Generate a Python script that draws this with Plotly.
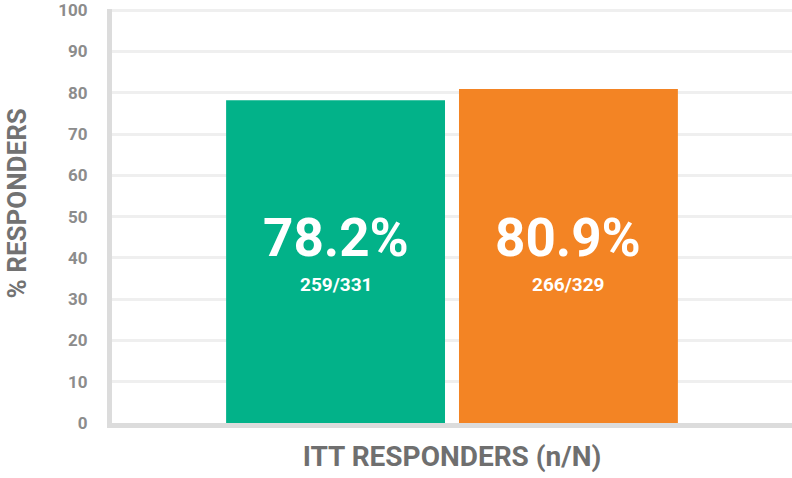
import plotly.graph_objects as go

# bar data
arms = ["Arm A", "Arm B"]
pct_responders = [78.2, 80.9]
pct_labels = ["78.2%", "80.9%"]
n_over_N = ["259/331", "266/329"]
bar_colors = ["#02B289", "#F38424"]

# y axis ticks
y_ticks = [0, 10, 20, 30, 40, 50, 60, 70, 80, 90, 100]

# labels sit at the same height in both bars
label_y = 39

fig = go.Figure()
fig.add_trace(go.Bar(
    x=arms,
    y=pct_responders,
    marker=dict(color=bar_colors, line=dict(width=0)),
    width=0.94,
    hoverinfo="skip",
))

# big % value and n/N inside each bar
for arm, lab, frac in zip(arms, pct_labels, n_over_N):
    fig.add_annotation(x=arm, y=label_y, text=f"<b>{lab}</b>", showarrow=False,
                       yshift=24, font=dict(family="Roboto", size=53, color="white"))
    fig.add_annotation(x=arm, y=label_y, text=f"<b>{frac}</b>", showarrow=False,
                       yshift=-22, font=dict(family="Roboto", size=19, color="white"))

# y title as rotated annotation
fig.add_annotation(xref="paper", yref="paper", x=-0.14, y=0.53, xanchor="center",
                   yanchor="middle", textangle=-90, showarrow=False,
                   text="<b>% RESPONDERS</b>",
                   font=dict(family="Roboto", size=26, color="#727272"))

fig.update_layout(
    width=792, height=478,
    margin=dict(l=112, r=0, t=9, b=55),
    paper_bgcolor="white", plot_bgcolor="white",
    showlegend=False,
    font=dict(family="Roboto"),
    xaxis=dict(
        range=[-0.96, 1.96], automargin=False,
        showticklabels=False, ticks="",
        showgrid=False, zeroline=False,
        showline=True, linecolor="#DCDCDC", linewidth=5,
        title=dict(text="<b>ITT RESPONDERS (n/N)</b>", standoff=21,
                   font=dict(family="Roboto", size=28, color="#6F6F6F")),
    ),
    yaxis=dict(
        range=[0, 100.3], tickvals=y_ticks, automargin=False,
        showgrid=True, gridcolor="#EFEFEF", gridwidth=3,
        zeroline=False,
        showline=True, linecolor="#DCDCDC", linewidth=5,
        ticks="", ticklabelstandoff=16,
        tickfont=dict(family="Roboto", size=17, color="#8C8C8C", weight="bold"),
    ),
)

fig.write_html("out.html", config={"displayModeBar": False},
               post_script="document.body.style.margin='0';")
